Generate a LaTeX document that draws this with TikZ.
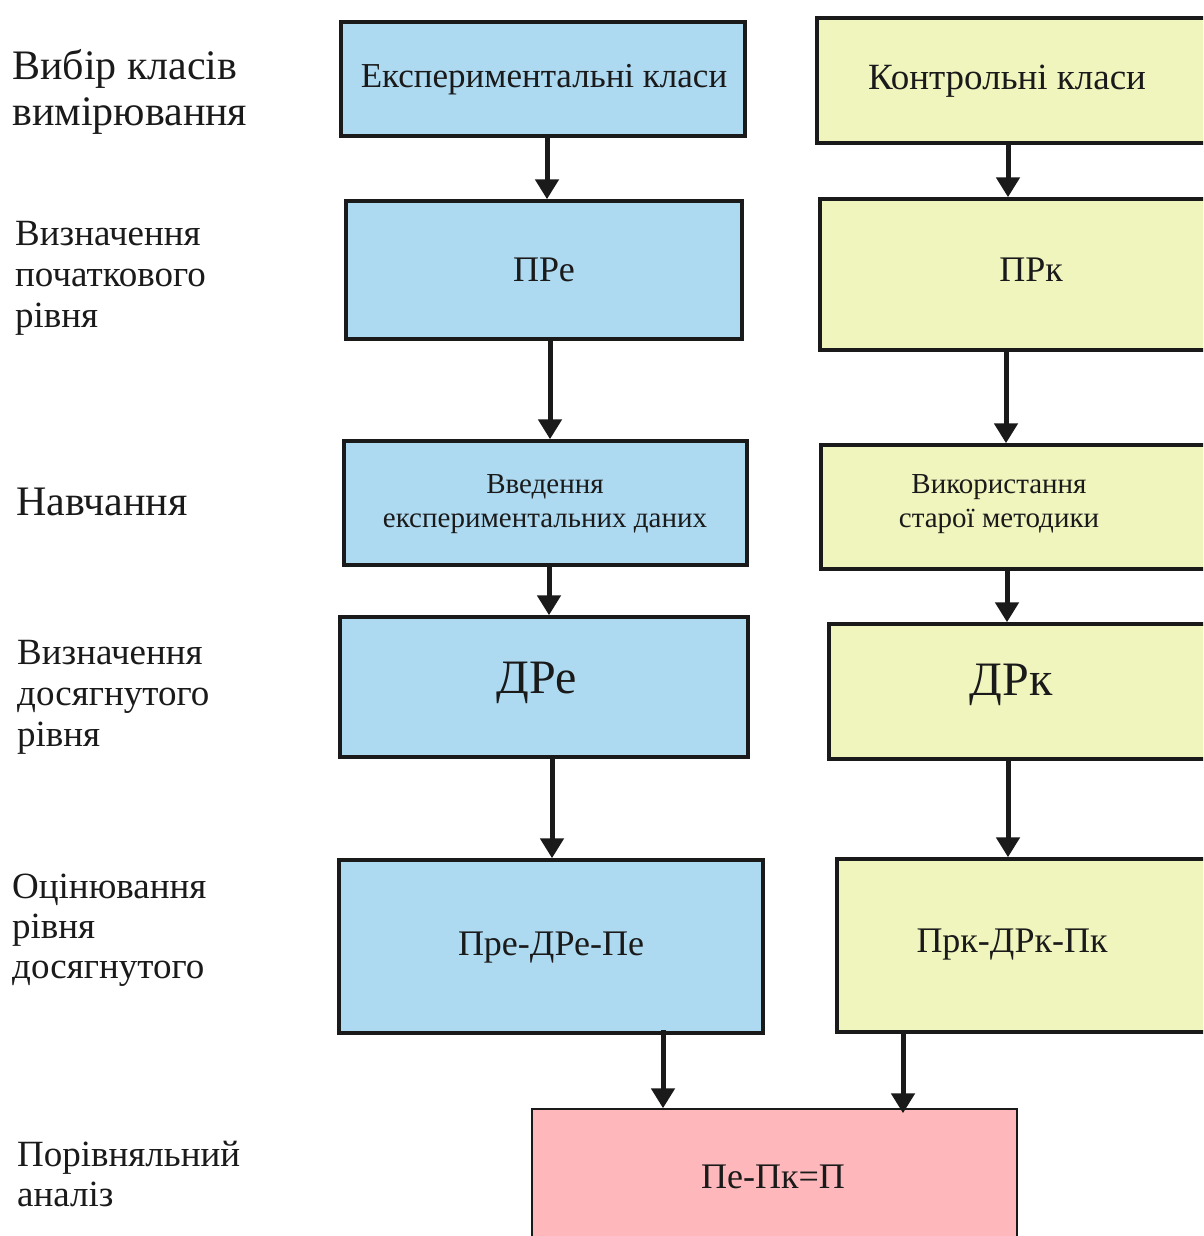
\documentclass[tikz,border=0pt]{standalone}
\usepackage{fontspec}
\setmainfont{Liberation Serif}
\usetikzlibrary{arrows.meta}
\usetikzlibrary{positioning}

\definecolor{expblue}{RGB}{174,218,241}
\definecolor{ctlyellow}{RGB}{240,245,190}
\definecolor{cmppink}{RGB}{254,184,187}
\definecolor{edge}{RGB}{26,26,26}

\tikzset{
  expbox/.style={rectangle,draw=edge,line width=3.5pt,fill=expblue,inner sep=0pt},
  ctlbox/.style={rectangle,draw=edge,line width=3.5pt,fill=ctlyellow,inner sep=0pt},
  cmpbox/.style={rectangle,draw=edge,line width=1.5pt,fill=cmppink,inner sep=0pt},
  flow/.style={draw=edge,line width=5pt,-{Triangle[width=23pt,length=20pt]}},
  rowlbl/.style={anchor=base west,align=left,inner sep=0pt,text=edge},
  boxtxt/.style={anchor=base,align=center,inner sep=0pt,text=edge}
}

\begin{document}
\begin{tikzpicture}[x=1pt,y=-1pt]
\useasboundingbox (0,0) rectangle (1203,1236);
\fill[white] (0,0) rectangle (1203,1236);
\clip (0,0) rectangle (1203,1236);

% row labels (base = last line)
\node[rowlbl,font=\fontsize{42}{47}\selectfont] (l1) at (12,126) {Вибір класів\\вимірювання};
\node[rowlbl,font=\fontsize{37}{41}\selectfont] (l2) at (15,327) {Визначення\\початкового\\рівня};
\node[rowlbl,font=\fontsize{42}{42}\selectfont] (l3) at (16,515) {Навчання};
\node[rowlbl,font=\fontsize{37}{41}\selectfont] (l4) at (17,746) {Визначення\\досягнутого\\рівня};
\node[rowlbl,font=\fontsize{37}{40}\selectfont] (l5) at (12,978) {Оцінювання\\рівня\\досягнутого};
\node[rowlbl,font=\fontsize{37}{40}\selectfont] (l6) at (17,1206) {Порівняльний\\аналіз};

% experimental classes
\node[expbox,minimum width=404,minimum height=114] (e1) at (543,79) {};
\node[expbox,minimum width=396,minimum height=138] (e2) at (544,270) {};
\node[expbox,minimum width=403,minimum height=124] (e3) at (545.5,503) {};
\node[expbox,minimum width=408,minimum height=140] (e4) at (544,687) {};
\node[expbox,minimum width=424,minimum height=173] (e5) at (551,946.5) {};

% control classes
\node[ctlbox,minimum width=398,minimum height=125] (c1) at (1016,80.5) {};
\node[ctlbox,minimum width=395,minimum height=151] (c2) at (1017.5,274.5) {};
\node[ctlbox,minimum width=394,minimum height=124] (c3) at (1018,507) {};
\node[ctlbox,minimum width=386,minimum height=135] (c4) at (1022,691.5) {};
\node[ctlbox,minimum width=378,minimum height=173] (c5) at (1026,945.5) {};

% comparison
\node[cmpbox,minimum width=485,minimum height=140] (p) at (774.5,1179) {};

\node[boxtxt,font=\fontsize{35}{35}\selectfont] (te1) at (544,88) {Експериментальні класи};
\node[boxtxt,font=\fontsize{36}{36}\selectfont] (te2) at (544,281) {ПРе};
\node[boxtxt,font=\fontsize{29}{34}\selectfont] (te3) at (545,527) {Введення\\експериментальних даних};
\node[boxtxt,font=\fontsize{48}{48}\selectfont] (te4) at (537,693) {ДРе};
\node[boxtxt,font=\fontsize{36}{36}\selectfont] (te5) at (551,955) {Пре-ДРе-Пе};

\node[boxtxt,font=\fontsize{37}{37}\selectfont] (tc1) at (1007,90) {Контрольні класи};
\node[boxtxt,font=\fontsize{36}{36}\selectfont] (tc2) at (1031,281) {ПРк};
\node[boxtxt,font=\fontsize{29}{34}\selectfont] (tc3) at (999,527) {Використання\\старої методики};
\node[boxtxt,font=\fontsize{48}{48}\selectfont] (tc4) at (1011,695) {ДРк};
\node[boxtxt,font=\fontsize{36}{36}\selectfont] (tc5) at (1012,952) {Прк-ДРк-Пк};

\node[boxtxt,font=\fontsize{36}{36}\selectfont] (tp) at (773,1188) {Пе-Пк=П};

% arrows
\draw[flow] (e1.south -| 547,0) -- (e2.north -| 547,0);
\draw[flow] (e2.south -| 550,0) -- (e3.north -| 550,0);
\draw[flow] (e3.south -| 549,0) -- (e4.north -| 549,0);
\draw[flow] (e4.south -| 552,0) -- (e5.north -| 552,0);
\draw[flow] (c1.south -| 1008,0) -- (c2.north -| 1008,0);
\draw[flow] (c2.south -| 1006,0) -- (c3.north -| 1006,0);
\draw[flow] (c3.south -| 1007,0) -- (c4.north -| 1007,0);
\draw[flow] (c4.south -| 1008,0) -- (c5.north -| 1008,0);
\draw[flow] ([yshift=5]e5.south -| 663,0) -- (p.north -| 663,0);
\draw[flow] (c5.south -| 903,0) -- ([yshift=-5]p.north -| 903,0);

\end{tikzpicture}
\end{document}
